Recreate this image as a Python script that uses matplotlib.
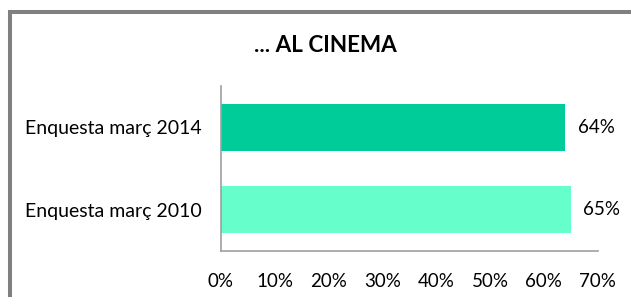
import matplotlib
matplotlib.use("Agg")
import matplotlib.pyplot as plt
from matplotlib.patches import Rectangle
from matplotlib.ticker import FuncFormatter

categories = ["Enquesta març 2010", "Enquesta març 2014"]
values = [65, 64]
colors = ["#66FFCC", "#00CC99"]
xticks = [0, 10, 20, 30, 40, 50, 60, 70]
title = "... AL CINEMA"

plt.rcParams['font.family'] = ['Lato', 'DejaVu Sans']

fig = plt.figure(figsize=(6.31, 2.97), dpi=100)
ax = fig.add_axes([0.3498, 0.1549, 0.5975, 0.5556])

y = list(range(len(categories)))
bars = ax.barh(y, values, height=0.575, color=colors)
ax.set_xlim(0, 70)
ax.set_ylim(-0.5, 1.5)
ax.set_yticks(y)
ax.set_yticklabels(categories, fontsize=14)
ax.set_xticks(xticks)
ax.xaxis.set_major_formatter(FuncFormatter(lambda v, p: f"{int(v)}%"))
ax.tick_params(axis='x', length=0, pad=16, labelsize=13.5, colors='#000000')
ax.tick_params(axis='y', length=0, pad=14)
for s in ['top', 'right']:
    ax.spines[s].set_visible(False)
for s in ['left', 'bottom']:
    ax.spines[s].set_color('#A0A0A0')
    ax.spines[s].set_linewidth(1.2)

for yi, v in zip(y, values):
    ax.annotate(f"{v}%", xy=(v, yi), xytext=(9, 0), textcoords='offset points',
                ha='left', va='center', fontsize=13.5)

fig.text(325/631, 1 - 46/297, title, ha='center', va='center', fontsize=16.2, fontweight='bold')

fig.patches.append(Rectangle((10/631, -0.5), 2, 1 - 12/297 + 0.5, transform=fig.transFigure,
                             fill=False, edgecolor='#808080', linewidth=2.9, clip_on=False))

fig.savefig("out.png", dpi=100)
